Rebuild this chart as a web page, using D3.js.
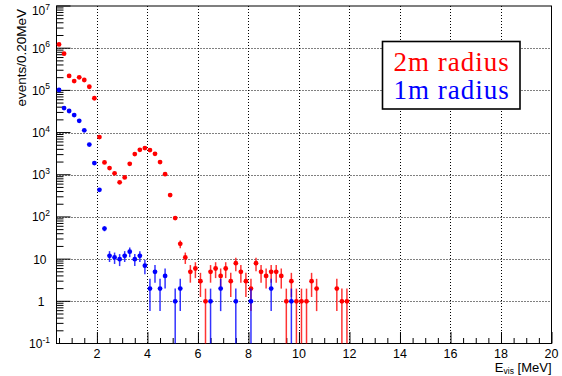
<!DOCTYPE html>
<html>
<head>
<meta charset="utf-8">
<script src="https://cdn.jsdelivr.net/npm/d3@7/dist/d3.min.js"></script>
<style>
  body { margin: 0; background: #fff; }
  svg { display: block; }
</style>
</head>
<body>
<div id="vis"></div>
<script>
// bin centres (0.20 MeV bins) and counts
const redX = [0.5, 0.7, 0.9, 1.1, 1.3, 1.5, 1.7, 1.9, 2.1, 2.3, 2.5, 2.7, 2.9, 3.1, 3.3, 3.5, 3.7, 3.9,
  4.1, 4.3, 4.5, 4.7, 4.9, 5.1, 5.3, 5.5, 5.7, 5.9, 6.1, 6.3, 6.5, 6.7, 6.9, 7.1, 7.3, 7.5, 7.7, 7.9,
  8.1, 8.3, 8.5, 8.7, 8.9, 9.1, 9.3, 9.5, 9.7, 9.9, 10.1, 10.3, 10.5, 10.7, 11.5, 11.7, 11.9];
const redN = [1230000, 740000, 220000, 166000, 204000, 176000, 122000, 65000, 7800, 1960, 1440, 1080, 660, 865, 1820, 3090, 3900, 4300,
  3840, 3140, 2000, 1030, 329, 94, 23, 11, 5, 6, 3, 1, 5, 6, 4, 6, 3, 8, 5, 3,
  2, 8, 5, 4, 5, 5, 4, 1, 3, 1, 1, 1, 3, 2, 2, 1, 1];

const blueX = [0.5, 0.7, 0.9, 1.1, 1.3, 1.5, 1.7, 1.9, 2.1, 2.3, 2.5, 2.7, 2.9, 3.1, 3.3, 3.5, 3.7, 3.9,
  4.1, 4.3, 4.5, 4.7, 5.1, 5.3, 6.5, 6.9, 7.5, 8.1, 8.9, 9.7];
const blueN = [102000, 38000, 32400, 26000, 19000, 11300, 5200, 1890, 440, 53, 12, 11, 10, 12, 15, 10, 12, 7,
  2, 5, 2, 4, 1, 2, 1, 2, 1, 1, 2, 1];

const xTicks = [2, 4, 6, 8, 10, 12, 14, 16, 18, 20];
const yExp = [7, 6, 5, 4, 3, 2, 1, 0, -1];
const legendLabels = ["2m radius", "1m radius"];

const W = 562, H = 376;
const margin = { top: 6, right: 10.5, bottom: 32.5, left: 56.5 };
const xMin = 0.4, xMax = 20, yMin = 0.1, yMax = 1e7;
const sans = "'Liberation Sans', Arial, Helvetica, sans-serif";
const serif = "'Liberation Serif', 'Times New Roman', serif";

const svg = d3.select("#vis").append("svg").attr("width", W).attr("height", H)
  .style("font-family", sans);
svg.append("rect").attr("width", W).attr("height", H).attr("fill", "#fff");

const x = d3.scaleLinear().domain([xMin, xMax]).range([margin.left, W - margin.right]);
const y = d3.scaleLog().domain([yMin, yMax]).range([H - margin.bottom, margin.top]).clamp(true);
const x0 = x.range()[0], x1 = x.range()[1], y0 = y.range()[0], y1 = y.range()[1];

// dotted grid at the major ticks
const grid = svg.append("g").attr("stroke", "#000").attr("stroke-width", 1).attr("stroke-dasharray", "1 2");
grid.selectAll(".gx").data(xTicks.filter(d => d < xMax)).enter().append("line")
  .attr("x1", d => Math.round(x(d)) + 0.5).attr("x2", d => Math.round(x(d)) + 0.5)
  .attr("y1", y1).attr("y2", y0);
grid.selectAll(".gy").data(yExp.filter(e => e > -1 && e < 7)).enter().append("line")
  .attr("x1", x0).attr("x2", x1)
  .attr("y1", e => Math.round(y(Math.pow(10, e))) + 0.5).attr("y2", e => Math.round(y(Math.pow(10, e))) + 0.5);

// frame
svg.append("rect").attr("x", x0).attr("y", y1).attr("width", x1 - x0).attr("height", y0 - y1)
  .attr("fill", "none").attr("stroke", "#000").attr("stroke-width", 1);

// x axis ticks: major every 2, minor every 0.5
const xAxis = svg.append("g").attr("transform", `translate(0,${y0})`)
  .call(d3.axisBottom(x).tickValues(d3.range(0.5, 20.01, 0.5)).tickSize(0).tickFormat(""));
xAxis.select(".domain").remove();
xAxis.selectAll(".tick line").remove();
xAxis.selectAll(".tick").append("line")
  .attr("stroke", "#000").attr("y1", 0)
  .attr("y2", d => (Math.abs(d / 2 - Math.round(d / 2)) < 1e-6) ? -11.5 : -5.5);
svg.append("g").selectAll("text").data(xTicks).enter().append("text")
  .attr("x", d => x(d)).attr("y", y0 + 14).attr("text-anchor", "middle")
  .attr("font-size", 12.5).attr("fill", "#000").text(d => d);

// y axis ticks (log)
const yMinor = [];
for (let e = -1; e < 7; e++) for (let m = 2; m <= 9; m++) yMinor.push(m * Math.pow(10, e));
const yAxis = svg.append("g");
yAxis.selectAll(".minor").data(yMinor).enter().append("line")
  .attr("x1", x0).attr("x2", x0 + 7)
  .attr("y1", d => y(d)).attr("y2", d => y(d)).attr("stroke", "#000");
yAxis.selectAll(".major").data(yExp).enter().append("line")
  .attr("x1", x0).attr("x2", x0 + 14)
  .attr("y1", e => y(Math.pow(10, e))).attr("y2", e => y(Math.pow(10, e))).attr("stroke", "#000");

const yLab = svg.append("g").attr("font-size", 12).attr("fill", "#000");
yExp.forEach(e => {
  // the top label is pushed down a little so it stays inside the page
  const yy = y(Math.pow(10, e)) + (e === 7 ? 9 : 4.5);
  if (e === 0 || e === 1) {
    yLab.append("text").attr("x", e === 0 ? 44.5 : 46.5).attr("y", yy).attr("text-anchor", "end")
      .text(e === 0 ? "1" : "10");
  } else {
    const t = yLab.append("text").attr("x", 50).attr("y", yy).attr("text-anchor", "end");
    t.append("tspan").text("10");
    t.append("tspan").attr("dy", -5.5).attr("font-size", 8.5).text(e);
  }
});

// axis titles
const xt = svg.append("text").attr("x", x1).attr("y", 371.5).attr("text-anchor", "end")
  .attr("font-size", 13).attr("fill", "#000");
xt.append("tspan").text("E");
xt.append("tspan").attr("dy", 2.5).attr("font-size", 8.5).text("vis");
xt.append("tspan").attr("dy", -2.5).text(" [MeV]");

svg.append("text").attr("transform", `translate(25.5,${y1 + 3}) rotate(-90)`)
  .attr("text-anchor", "end").attr("font-size", 13.5).attr("fill", "#000")
  .text("events/0.20MeV");

// data: markers with sqrt(N) error bars
function drawSeries(xs, ns, color) {
  const pts = xs.map((v, i) => ({ x: v, n: ns[i] }));
  const g = svg.append("g");
  g.selectAll("line").data(pts).enter().append("line")
    .attr("x1", d => x(d.x)).attr("x2", d => x(d.x))
    .attr("y1", d => y(d.n + Math.sqrt(d.n)))
    .attr("y2", d => y(Math.max(d.n - Math.sqrt(d.n), yMin)))
    .attr("stroke", color).attr("stroke-width", 1.5).attr("stroke-opacity", 0.8);
  g.selectAll("circle").data(pts).enter().append("circle")
    .attr("cx", d => x(d.x)).attr("cy", d => y(d.n)).attr("r", 2.4)
    .attr("fill", color);
}
drawSeries(redX, redN, "#ff0000");
drawSeries(blueX, blueN, "#0000ff");

// legend
const leg = svg.append("g");
leg.append("rect").attr("x", 382.5).attr("y", 41.5).attr("width", 137.5).attr("height", 67.5)
  .attr("fill", "#fff").attr("stroke", "#000").attr("stroke-width", 1.6);
leg.selectAll("text").data(legendLabels).enter().append("text")
  .attr("x", 393.5).attr("y", (d, i) => 71 + i * 27.5)
  .style("font-family", serif)
  .attr("font-size", 27)
  .attr("letter-spacing", 1)
  .attr("fill", (d, i) => i === 0 ? "#ff0000" : "#0000ff")
  .text(d => d);
</script>
</body>
</html>
